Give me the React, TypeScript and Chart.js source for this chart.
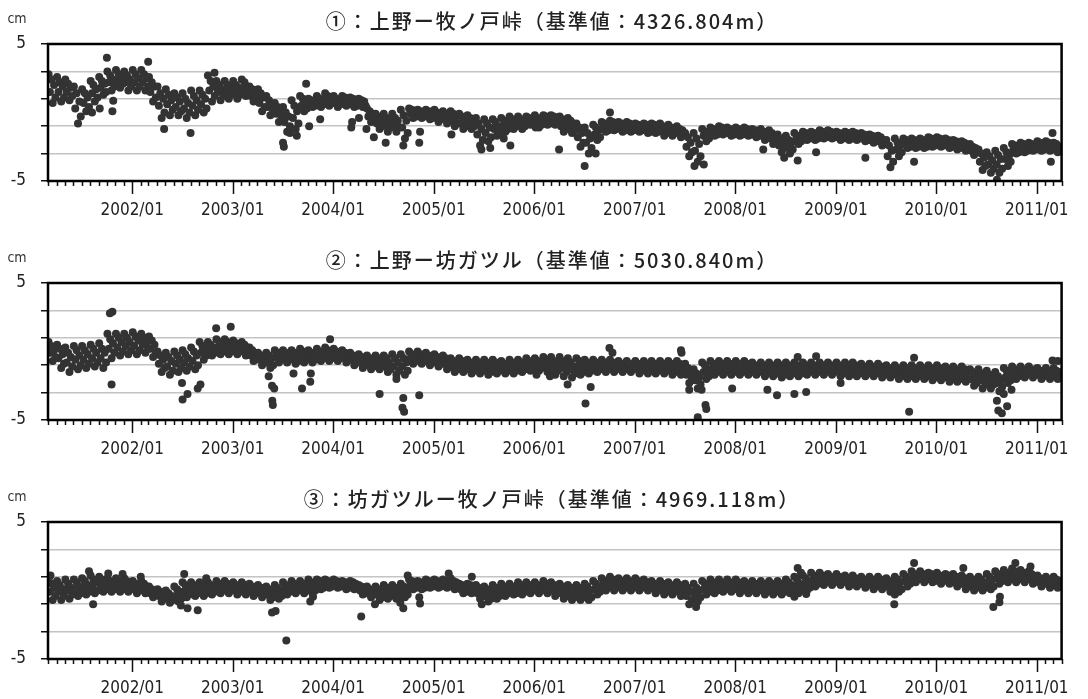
import React, { useEffect, useRef } from 'react';
import { Chart, registerables } from 'chart.js';

Chart.register(...registerables);

// ---------------- data ----------------
// first month that carries data, and the days inside each month that were read
const FIRST_MONTH = [2001, 3];
const SAMPLE_DAYS = [3, 8, 13, 18, 23, 28];
const AXIS_START = '2001/03/01';
const AXIS_END = '2011/04/01';
const YEAR_LABELS = ['2002/01', '2003/01', '2004/01', '2005/01', '2006/01', '2007/01', '2008/01', '2009/01', '2010/01', '2011/01'];
const Y_LABELS = [-5, 0, 5];
const UNIT_LABEL = 'cm';
const TITLES = [
  '①：上野ー牧ノ戸峠（基準値：4326.804m）',
  '②：上野ー坊ガツル（基準値：5030.840m）',
  '③：坊ガツルー牧ノ戸峠（基準値：4969.118m）',
];

// baseline change in millimetres, 6 readings per month from 2001/03 to 2011/03
const S1_MM = [
  // 2001
  28, 15, 24, 7, 20, 11, 26, 15, 22, 8, 19, 11, 24, 15, 21, 9, 18, 12, 19, 3, 14, -8, 8, -3, 17, 7, 14, 1, 11, 4,
  23, 14, 20, 8, 17, 11, 26, 18, 23, 13, 21, 15, 30, 22, 27, 16, 24, 19, 31, 23, 28, 18, 26, 21, 30, 22, 27, 16, 24, 19,
  // 2002
  31, 22, 28, 16, 25, 19, 31, 22, 28, 16, 25, 19, 26, 15, 22, 8, 19, 11, 19, 5, 14, -4, 10, 0, 17, 6, 13, -2, 9, 2, 14, 4, 11, -2, 8, 1,
  14, 3, 10, -4, 7, 0, 16, 5, 12, -2, 9, 2, 16, 6, 13, 0, 10, 3, 27, 16, 23, 8, 19, 12, 23, 15, 20, 9, 17, 12, 23, 15, 20, 10, 18, 13,
  // 2003
  23, 15, 20, 10, 18, 13, 24, 17, 22, 12, 19, 14, 19, 12, 17, 8, 15, 10, 17, 7, 14, 1, 11, 4, 12, 4, 9, -2, 6, 1, 7, -1, 4, -7, 1, -4,
  4, -7, 0, -14, -3, -10, 9, -4, 5, -12, 1, -8, 12, 5, 10, 1, 8, 3, 10, 6, 9, 4, 8, 5, 12, 7, 10, 4, 9, 6, 14, 9, 12, 5, 10, 7,
  // 2004
  12, 7, 10, 4, 9, 6, 12, 8, 11, 5, 9, 6, 11, 7, 10, 4, 8, 5, 10, 6, 9, 4, 8, 5, 3, -3, 1, -7, -1, -5, -1, -8, -3, -12, -5, -10,
  -1, -9, -4, -14, -6, -11, -1, -9, -4, -14, -6, -11, 2, -11, -2, -19, -6, -15, 3, -1, 2, -4, 0, -3, 2, -2, 1, -4, 0, -3, 2, -2, 1, -5, -1, -4,
  // 2005
  2, -3, 0, -7, -2, -5, 1, -4, -1, -8, -3, -6, 1, -6, -1, -10, -3, -8, -1, -8, -3, -12, -5, -10, -2, -8, -4, -12, -6, -10, -4, -16, -8, -24, -12, -20,
  -5, -15, -8, -21, -11, -18, -5, -12, -7, -17, -10, -15, -4, -10, -6, -14, -8, -12, -3, -8, -5, -12, -7, -10, -3, -8, -5, -12, -7, -10, -3, -7, -4, -9, -5, -8,
  // 2006
  -2, -7, -4, -11, -6, -9, -2, -6, -3, -9, -5, -8, -2, -6, -3, -9, -5, -8, -3, -10, -5, -14, -7, -12, -4, -11, -6, -15, -8, -13, -8, -18, -11, -25, -15, -22,
  -11, -22, -15, -30, -19, -26, -9, -16, -11, -20, -13, -18, -7, -11, -8, -14, -10, -13, -6, -10, -7, -13, -9, -12, -7, -11, -8, -14, -10, -13, -7, -11, -8, -14, -10, -13,
  // 2007
  -8, -12, -9, -14, -10, -13, -8, -12, -9, -15, -11, -14, -8, -12, -9, -15, -11, -14, -8, -13, -10, -17, -12, -15, -9, -14, -11, -17, -12, -15, -10, -15, -12, -18, -13, -16,
  -15, -25, -18, -32, -22, -29, -15, -28, -19, -36, -23, -32, -12, -17, -14, -21, -16, -19, -11, -15, -12, -17, -13, -16, -10, -14, -11, -16, -12, -15, -11, -15, -12, -17, -13, -16,
  // 2008
  -11, -15, -12, -17, -13, -16, -11, -15, -12, -17, -13, -16, -12, -16, -13, -18, -14, -17, -12, -17, -14, -20, -15, -18, -13, -19, -15, -23, -17, -21, -16, -24, -19, -29, -21, -26,
  -17, -25, -20, -30, -22, -27, -15, -20, -17, -23, -18, -21, -14, -18, -15, -20, -16, -19, -14, -18, -15, -20, -16, -19, -13, -17, -14, -19, -15, -18, -13, -17, -14, -19, -15, -18,
  // 2009
  -14, -18, -15, -20, -16, -19, -14, -18, -15, -20, -16, -19, -14, -18, -15, -20, -16, -19, -15, -19, -16, -21, -17, -20, -16, -20, -17, -22, -18, -21, -17, -21, -18, -24, -20, -23,
  -20, -32, -24, -40, -28, -36, -19, -27, -22, -32, -24, -29, -19, -23, -20, -26, -22, -25, -19, -23, -20, -26, -22, -25, -19, -23, -20, -26, -22, -25, -18, -22, -19, -25, -21, -24,
  // 2010
  -18, -22, -19, -25, -21, -24, -19, -23, -20, -26, -22, -25, -20, -24, -21, -27, -23, -26, -21, -25, -22, -28, -24, -27, -23, -28, -25, -31, -26, -29, -27, -36, -30, -42, -33, -39,
  -29, -38, -32, -44, -35, -41, -28, -38, -31, -44, -34, -41, -26, -34, -29, -39, -31, -36, -23, -27, -24, -30, -26, -29, -22, -26, -23, -29, -25, -28, -22, -26, -23, -28, -24, -27,
  // 2011
  -21, -25, -22, -28, -24, -27, -21, -25, -22, -28, -24, -27, -22, -26, -23, -29, -25, -28,
];

const S2_MM = [
  // 2001
  7, -1, 4, -7, 1, -4, 5, -5, 2, -12, -2, -9, 3, -8, -1, -15, -4, -11, 4, -6, 1, -13, -3, -10, 4, -6, 1, -12, -2, -9,
  5, -5, 2, -11, -1, -8, 6, -5, 2, -12, -1, -8, 13, 2, 9, -5, 6, -1, 13, 3, 10, -3, 7, 0, 13, 4, 10, -2, 7, 1,
  // 2002
  14, 4, 11, -2, 8, 1, 13, 5, 10, -1, 7, 2, 11, 2, 8, -4, 5, -1, 0, -9, -3, -15, -6, -12, -1, -11, -4, -17, -7, -14, 0, -9, -3, -15, -6, -12,
  1, -8, -2, -14, -5, -11, 3, -7, 0, -13, -3, -10, 7, -1, 4, -6, 2, -3, 7, 1, 5, -3, 3, -1, 9, 2, 7, -2, 5, 0, 9, 2, 7, -2, 5, 0,
  // 2003
  8, 2, 6, -2, 4, 0, 7, 1, 5, -3, 3, -1, 3, -3, 1, -7, -1, -5, -1, -6, -3, -10, -5, -8, -1, -8, -3, -12, -5, -10, 1, -4, -1, -8, -3, -6,
  1, -4, -1, -8, -3, -6, 1, -5, -1, -9, -3, -7, 2, -4, 0, -8, -2, -6, 1, -4, -1, -8, -3, -6, 2, -3, 0, -7, -2, -5, 3, -3, 1, -7, -1, -5,
  // 2004
  2, -3, 0, -7, -2, -5, 1, -4, -1, -8, -3, -6, -1, -6, -3, -10, -5, -8, -2, -8, -4, -12, -6, -10, -3, -9, -5, -13, -7, -11, -3, -9, -5, -13, -7, -11,
  -3, -10, -5, -15, -8, -13, -2, -11, -5, -17, -8, -14, -2, -11, -5, -17, -8, -14, 0, -5, -2, -9, -4, -7, 0, -5, -2, -9, -4, -7, -1, -6, -3, -10, -5, -8,
  // 2005
  -2, -7, -4, -11, -6, -9, -3, -9, -5, -13, -7, -11, -5, -11, -7, -15, -9, -13, -5, -11, -7, -15, -9, -13, -6, -12, -8, -16, -10, -14, -6, -12, -8, -16, -10, -14,
  -6, -13, -8, -17, -10, -15, -6, -12, -8, -16, -10, -14, -7, -12, -9, -16, -11, -14, -6, -12, -8, -16, -10, -14, -6, -11, -8, -15, -10, -13, -5, -10, -7, -14, -9, -12,
  // 2006
  -5, -10, -7, -14, -9, -12, -4, -11, -6, -15, -8, -13, -4, -12, -7, -17, -9, -14, -4, -12, -7, -18, -10, -15, -5, -13, -8, -19, -11, -16, -5, -12, -7, -17, -10, -15,
  -6, -12, -8, -16, -10, -14, -6, -11, -8, -15, -10, -13, -6, -11, -8, -15, -10, -13, -6, -11, -8, -15, -10, -13, -7, -12, -9, -15, -10, -13, -7, -12, -9, -15, -10, -13,
  // 2007
  -7, -12, -9, -16, -11, -14, -7, -12, -9, -16, -11, -14, -7, -12, -9, -16, -11, -14, -7, -12, -9, -16, -11, -14, -7, -13, -9, -17, -11, -15, -7, -13, -9, -17, -11, -15,
  -9, -17, -12, -23, -15, -20, -13, -21, -16, -27, -19, -24, -8, -15, -10, -20, -13, -18, -7, -13, -9, -17, -11, -15, -7, -13, -9, -17, -11, -15, -7, -13, -9, -17, -11, -15,
  // 2008
  -7, -13, -9, -17, -11, -15, -7, -13, -9, -17, -11, -15, -8, -13, -10, -17, -12, -15, -8, -14, -10, -18, -12, -16, -8, -14, -10, -18, -12, -16, -8, -15, -10, -19, -12, -17,
  -8, -14, -10, -18, -12, -16, -8, -14, -10, -18, -12, -16, -8, -13, -10, -17, -12, -15, -8, -13, -10, -17, -12, -15, -8, -13, -10, -17, -12, -15, -8, -13, -10, -17, -12, -15,
  // 2009
  -8, -14, -10, -18, -12, -16, -8, -14, -10, -18, -12, -16, -8, -14, -10, -18, -12, -16, -9, -14, -11, -18, -13, -16, -9, -14, -11, -18, -13, -16, -9, -15, -11, -19, -13, -17,
  -10, -15, -12, -19, -14, -17, -10, -16, -12, -20, -14, -18, -10, -16, -12, -20, -14, -18, -10, -16, -12, -20, -14, -18, -10, -16, -12, -20, -14, -18, -10, -17, -12, -21, -14, -19,
  // 2010
  -10, -17, -12, -21, -14, -19, -11, -18, -13, -22, -15, -20, -11, -18, -13, -22, -15, -20, -11, -18, -13, -22, -15, -20, -13, -20, -15, -25, -18, -23, -13, -21, -16, -27, -19, -24,
  -14, -22, -17, -27, -19, -24, -15, -23, -18, -29, -21, -26, -12, -19, -14, -23, -16, -21, -11, -16, -13, -20, -15, -18, -11, -16, -13, -19, -14, -17, -11, -16, -13, -19, -14, -17,
  // 2011
  -12, -17, -14, -20, -15, -18, -12, -17, -14, -20, -15, -18, -12, -17, -14, -20, -15, -18,
];

const S3_MM = [
  // 2001
  8, -1, 5, -7, 2, -4, 7, -1, 4, -7, 1, -4, 8, 0, 5, -6, 2, -3, 8, 1, 6, -4, 3, -2, 9, 2, 7, -3, 4, -1,
  11, 3, 8, -2, 6, 0, 10, 3, 8, -1, 6, 1, 9, 3, 7, -1, 5, 1, 9, 3, 7, -1, 5, 1, 9, 3, 7, -1, 5, 1,
  // 2002
  7, 2, 5, -2, 3, 0, 7, 2, 5, -2, 3, 0, 3, -2, 1, -5, 0, -3, 1, -4, -1, -8, -3, -6, 0, -5, -2, -9, -4, -7, 3, -4, 1, -8, -1, -6,
  6, -1, 4, -5, 2, -3, 6, 0, 4, -4, 2, -2, 6, 0, 4, -4, 2, -2, 6, 1, 4, -3, 2, -1, 7, 2, 5, -2, 3, 0, 7, 2, 5, -2, 3, 0,
  // 2003
  6, 1, 4, -3, 2, -1, 6, 1, 4, -3, 2, -1, 5, 0, 3, -4, 1, -2, 4, -1, 2, -5, 0, -3, 3, -3, 1, -7, -1, -5, 4, -2, 2, -6, 0, -4,
  6, 1, 4, -3, 2, -1, 7, 2, 5, -2, 3, 0, 7, 2, 5, -2, 3, 0, 8, 2, 6, -2, 4, 0, 8, 4, 7, 1, 5, 2, 8, 4, 7, 2, 6, 3,
  // 2004
  8, 4, 7, 2, 6, 3, 7, 3, 6, 1, 5, 2, 7, 3, 6, 1, 5, 2, 4, 0, 3, -3, 1, -2, 3, -2, 1, -5, 0, -3, 3, -3, 1, -7, -1, -5,
  4, -2, 2, -6, 0, -4, 4, -2, 2, -6, 0, -4, 5, -1, 3, -5, 1, -3, 8, 4, 7, 1, 5, 2, 7, 3, 6, 1, 5, 2, 8, 4, 7, 2, 6, 3,
  // 2005
  8, 4, 7, 2, 6, 3, 8, 4, 7, 2, 6, 3, 9, 4, 7, 1, 6, 3, 5, 1, 4, -2, 2, -1, 5, 1, 4, -2, 2, -1, 4, -2, 2, -6, 0, -4,
  3, -4, 1, -8, -1, -6, 4, -2, 2, -6, 0, -4, 5, 0, 3, -4, 1, -2, 5, 0, 3, -3, 2, -2, 6, 1, 4, -3, 2, -1, 6, 1, 4, -2, 3, 0,
  // 2006
  6, 1, 4, -2, 3, 0, 7, 2, 5, -2, 3, 0, 6, 0, 4, -4, 2, -2, 5, -2, 3, -6, 1, -4, 4, -3, 2, -7, 0, -5, 4, -3, 2, -7, 0, -5,
  5, -2, 3, -7, 0, -5, 7, 1, 5, -3, 3, -1, 9, 4, 7, 0, 5, 2, 10, 4, 8, 0, 6, 2, 9, 4, 7, 0, 5, 2, 9, 4, 7, 0, 5, 2,
  // 2007
  9, 4, 7, 0, 5, 2, 8, 3, 6, 0, 5, 2, 7, 2, 5, -2, 3, 0, 7, 1, 5, -3, 3, -1, 6, 1, 4, -3, 2, -1, 6, 0, 4, -4, 2, -2,
  5, -4, 2, -10, -1, -7, 5, -3, 2, -8, 0, -5, 7, 1, 5, -3, 3, -1, 8, 2, 6, -2, 4, 0, 8, 3, 6, -1, 4, 1, 8, 3, 6, -1, 4, 1,
  // 2008
  8, 2, 6, -2, 4, 0, 7, 2, 5, -2, 3, 0, 7, 2, 5, -2, 3, 0, 7, 1, 5, -3, 3, -1, 7, 1, 5, -3, 3, -1, 7, 1, 5, -3, 3, -1,
  8, 2, 6, -2, 4, 0, 10, 3, 8, -2, 5, 0, 11, 4, 9, 0, 7, 2, 13, 7, 11, 3, 9, 5, 13, 8, 11, 4, 9, 6, 12, 7, 10, 4, 9, 6,
  // 2009
  12, 7, 10, 4, 9, 6, 11, 6, 9, 3, 8, 5, 11, 6, 9, 3, 8, 5, 10, 5, 8, 2, 7, 4, 10, 5, 8, 1, 6, 3, 10, 5, 8, 1, 6, 3,
  9, 3, 7, -1, 5, 1, 10, 3, 8, -1, 6, 1, 12, 7, 10, 3, 8, 5, 14, 9, 12, 6, 11, 8, 14, 9, 12, 6, 11, 8, 13, 9, 12, 6, 10, 7,
  // 2010
  13, 8, 11, 5, 10, 7, 12, 8, 11, 5, 9, 6, 12, 7, 10, 3, 8, 5, 11, 5, 9, 1, 7, 3, 10, 4, 8, 0, 6, 2, 10, 4, 8, 0, 6, 2,
  12, 5, 10, 1, 8, 3, 14, 9, 12, 5, 10, 7, 15, 10, 13, 6, 11, 8, 16, 10, 14, 6, 12, 8, 15, 10, 13, 6, 11, 8, 14, 9, 12, 5, 10, 7,
  // 2011
  11, 6, 9, 3, 8, 5, 10, 5, 8, 2, 7, 4, 10, 5, 8, 2, 7, 4,
];

// isolated readings (date, cm)
const S1_OUTLIERS: [string, number][] = [
  ['2001/08/08', 0.0], ['2001/09/05', 0.3], ['2001/10/01', 4.0], ['2001/10/21', 0.1], ['2001/10/24', 0.85],
  ['2002/02/28', 3.7], ['2002/04/27', -1.2], ['2002/08/01', -1.5], ['2002/10/27', 2.9], ['2003/07/03', -2.2],
  ['2003/07/06', -2.5], ['2003/07/28', -1.5], ['2003/08/22', -1.7], ['2003/09/25', 2.1], ['2003/10/06', -1.0],
  ['2003/11/15', -0.5], ['2004/03/07', -1.1], ['2004/03/10', -0.7], ['2004/04/04', -0.4], ['2004/05/01', -1.2],
  ['2004/05/28', -1.8], ['2004/07/10', -2.2], ['2004/09/12', -2.4], ['2004/11/09', -2.2], ['2004/11/12', -1.4],
  ['2005/03/06', -1.6], ['2005/06/23', -2.7], ['2005/07/25', -2.6], ['2005/09/12', -1.9], ['2005/10/06', -2.4],
  ['2006/01/06', -1.1], ['2006/04/01', -2.7], ['2006/07/03', -3.9], ['2006/08/12', -3.0], ['2006/10/03', 0.0],
  ['2007/08/06', -3.9], ['2007/09/09', -3.8], ['2008/04/12', -2.7], ['2008/06/27', -3.3], ['2008/08/15', -3.5],
  ['2008/10/21', -2.9], ['2009/04/18', -3.3], ['2009/10/12', -3.6], ['2010/08/09', -4.9], ['2011/02/21', -3.6],
  ['2011/02/27', -1.5],
];
const S2_OUTLIERS: [string, number][] = [
  ['2001/10/12', 2.8], ['2001/10/21', 2.9], ['2001/10/18', -2.4], ['2002/07/01', -2.3], ['2002/07/03', -3.5],
  ['2002/07/21', -3.1], ['2002/08/27', -2.7], ['2002/09/06', -2.4], ['2002/11/02', 1.7], ['2002/12/25', 1.8],
  ['2003/05/12', -1.8], ['2003/05/24', -2.5], ['2003/06/01', -2.7], ['2003/05/25', -3.6], ['2003/05/27', -3.9],
  ['2003/08/10', -1.6], ['2003/09/10', -2.7], ['2003/10/10', -2.2], ['2003/10/12', -1.6], ['2003/12/21', 0.9],
  ['2004/06/18', -3.1], ['2004/08/18', -2.0], ['2004/09/09', -4.1], ['2004/09/12', -3.4], ['2004/09/15', -4.4],
  ['2004/11/09', -3.2], ['2006/01/09', -1.7], ['2006/02/27', -1.8], ['2006/05/02', -2.4], ['2006/07/06', -3.8],
  ['2006/07/25', -2.6], ['2006/10/01', 0.25], ['2006/10/12', -0.1], ['2007/06/18', 0.1], ['2007/06/20', -0.1],
  ['2007/07/18', -2.8], ['2007/08/18', -4.8], ['2007/09/01', -2.8], ['2007/09/15', -3.9], ['2007/09/18', -4.2],
  ['2007/12/21', -2.7], ['2008/04/27', -2.8], ['2008/06/01', -3.2], ['2008/08/03', -3.1], ['2008/08/15', -0.4],
  ['2008/09/15', -2.95], ['2008/10/21', -0.35], ['2009/01/18', -2.3], ['2009/09/24', -4.4], ['2009/10/12', -0.45],
  ['2010/08/09', -3.6], ['2010/08/14', -4.3], ['2010/08/27', -4.5], ['2010/09/03', -3.1], ['2010/09/15', -4.0],
  ['2010/10/01', -2.8], ['2011/02/27', -0.65], ['2011/03/18', -0.7],
];
const S3_OUTLIERS: [string, number][] = [
  ['2001/03/10', 1.1], ['2001/07/28', 1.4], ['2001/08/12', -1.0], ['2001/10/06', 1.25], ['2001/11/27', 1.2],
  ['2002/02/01', 1.0], ['2002/06/27', -1.1], ['2002/07/09', 1.2], ['2002/07/21', -1.3], ['2002/08/27', -1.45],
  ['2002/09/27', 0.9], ['2003/05/24', -1.6], ['2003/06/06', -1.5], ['2003/07/15', -3.65], ['2003/10/10', -0.8],
  ['2003/10/20', -0.45], ['2004/04/12', -1.9], ['2004/06/01', -1.0], ['2004/09/01', -0.9], ['2004/09/12', -1.3],
  ['2004/09/28', 1.1], ['2004/11/09', -0.5], ['2004/11/12', -0.95], ['2005/02/24', 1.25], ['2005/05/19', 1.0],
  ['2005/06/24', -1.0], ['2007/08/12', -1.2], ['2008/08/15', 1.65], ['2008/08/27', 1.3], ['2008/08/03', -0.45],
  ['2008/09/15', -0.25], ['2009/08/01', -1.0], ['2009/08/03', -0.3], ['2009/10/12', 2.0], ['2010/04/09', 1.65],
  ['2010/07/27', -1.2], ['2010/08/18', -0.85], ['2010/08/20', -0.45], ['2010/10/15', 2.0], ['2010/12/09', 1.75],
];

// ---------------- helpers ----------------
function parseDate(s: string): number {
  const [y, m, d] = s.split('/').map(Number);
  return Date.UTC(y, m - 1, d || 1);
}

function buildPoints(mm: number[], outliers: [string, number][]) {
  const pts: { x: number; y: number }[] = [];
  const n = SAMPLE_DAYS.length;
  mm.forEach((v, i) => {
    const month = Math.floor(i / n);
    const day = SAMPLE_DAYS[i % n];
    pts.push({ x: Date.UTC(FIRST_MONTH[0], FIRST_MONTH[1] - 1 + month, day), y: v / 10 });
  });
  outliers.forEach(([d, v]) => pts.push({ x: parseDate(d), y: v }));
  return pts;
}

const LABEL_FONT = '"DejaVu Sans Condensed", "Liberation Sans Narrow", "Liberation Sans", sans-serif';
const TITLE_FONT = '"Noto Sans CJK JP", "Noto Sans", sans-serif';
const WIDTH = 1088;
const PLOT_TOP = 44;
const PLOT_BOTTOM = 181;
const PLOT_LEFT = 48;
const PLOT_RIGHT = 1071;

type PanelProps = { title: string; mm: number[]; outliers: [string, number][]; height: number; top: number };

function Panel({ title, mm, outliers, height, top }: PanelProps) {
  const ref = useRef<HTMLCanvasElement | null>(null);

  useEffect(() => {
    const canvas = ref.current;
    if (!canvas) return;
    const xMin = parseDate(AXIS_START);
    const xMax = parseDate(AXIS_END);

    const decor = {
      id: 'decor',
      afterDraw(chart: any) {
        const ctx = chart.ctx as CanvasRenderingContext2D;
        const a = chart.chartArea;
        const xs = chart.scales.x;
        ctx.save();
        // monthly ticks, longer on January
        ctx.strokeStyle = '#111';
        ctx.lineWidth = 1.5;
        const s = new Date(xMin);
        for (let i = 0; ; i++) {
          const t = Date.UTC(s.getUTCFullYear(), s.getUTCMonth() + i, 1);
          if (t > xMax) break;
          const px = Math.round(xs.getPixelForValue(t)) + 0.5;
          const len = new Date(t).getUTCMonth() === 0 ? 13 : 5;
          ctx.beginPath();
          ctx.moveTo(px, a.bottom);
          ctx.lineTo(px, a.bottom + len);
          ctx.stroke();
        }
        // frame
        ctx.strokeStyle = '#000';
        ctx.lineWidth = 2.5;
        ctx.strokeRect(a.left, a.top, a.right - a.left, a.bottom - a.top);
        // unit label
        ctx.fillStyle = '#333';
        ctx.textAlign = 'center';
        ctx.textBaseline = 'middle';
        ctx.font = `14px ${LABEL_FONT}`;
        ctx.fillText(UNIT_LABEL, 17, 19);
        // title
        ctx.font = `500 20px ${TITLE_FONT}`;
        (ctx as any).letterSpacing = '2px';
        ctx.fillStyle = '#222';
        ctx.fillText(title, 552, 21);
        (ctx as any).letterSpacing = '0px';
        ctx.restore();
      },
    };

    const chart = new Chart(canvas, {
      type: 'scatter',
      data: {
        datasets: [
          {
            data: buildPoints(mm, outliers),
            pointRadius: 4,
            pointHoverRadius: 4,
            pointBackgroundColor: '#333333',
            pointBorderWidth: 0,
            borderWidth: 0,
          } as any,
        ],
      },
      options: {
        animation: false,
        responsive: false,
        devicePixelRatio: 1,
        events: [],
        layout: { padding: { top: PLOT_TOP, left: 0, right: WIDTH - PLOT_RIGHT, bottom: 0 } },
        plugins: { legend: { display: false }, tooltip: { enabled: false }, title: { display: false } },
        scales: {
          x: {
            type: 'linear',
            min: xMin,
            max: xMax,
            grid: { display: false, drawTicks: false },
            border: { display: false },
            afterBuildTicks: (scale: any) => {
              scale.ticks = YEAR_LABELS.map((l) => ({ value: parseDate(l) }));
            },
            afterFit: (scale: any) => {
              scale.height = height - PLOT_BOTTOM;
            },
            ticks: {
              autoSkip: false,
              maxRotation: 0,
              minRotation: 0,
              padding: 19,
              color: '#222',
              font: { family: LABEL_FONT, size: 17 },
              callback: (_v: any, i: number) => YEAR_LABELS[i],
            },
          },
          y: {
            min: -5,
            max: 5,
            grid: { color: '#c4c4c4', lineWidth: 1.5, tickColor: '#111', tickWidth: 1.5, tickLength: 7, drawTicks: true },
            border: { display: false },
            afterFit: (scale: any) => {
              scale.width = PLOT_LEFT;
            },
            ticks: {
              stepSize: 1,
              padding: 15,
              color: '#222',
              font: { family: LABEL_FONT, size: 17 },
              callback: (v: any) => (Y_LABELS.includes(Number(v)) ? String(v) : ''),
            },
          },
        },
      } as any,
      plugins: [decor],
    });
    return () => chart.destroy();
  }, [title, mm, outliers, height]);

  return (
    <canvas
      ref={ref}
      width={WIDTH}
      height={height}
      style={{ position: 'absolute', left: 0, top, width: WIDTH, height, display: 'block' }}
    />
  );
}

export default function App() {
  return (
    <div style={{ position: 'fixed', left: 0, top: 0, width: 1088, height: 699, background: '#fff', overflow: 'hidden' }}>
      <Panel title={TITLES[0]} mm={S1_MM} outliers={S1_OUTLIERS} height={239} top={0} />
      <Panel title={TITLES[1]} mm={S2_MM} outliers={S2_OUTLIERS} height={239} top={239} />
      <Panel title={TITLES[2]} mm={S3_MM} outliers={S3_OUTLIERS} height={221} top={478} />
    </div>
  );
}
